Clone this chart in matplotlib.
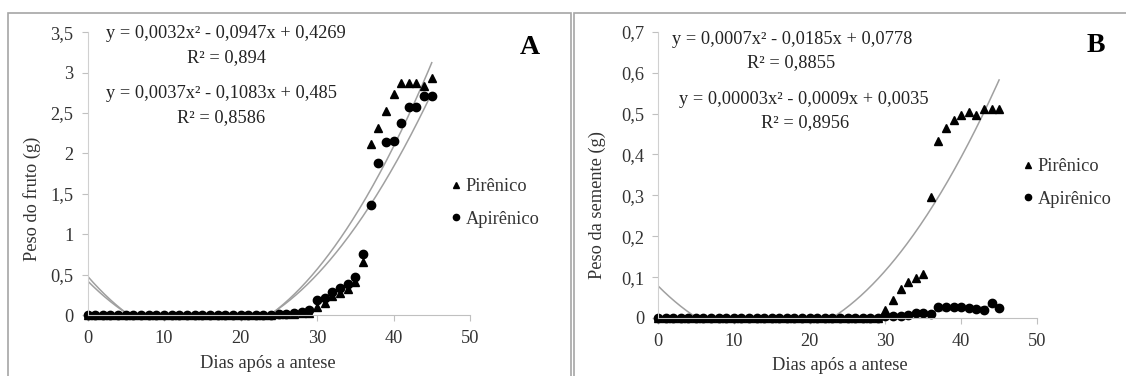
import numpy as np
import matplotlib
matplotlib.use("Agg")
import matplotlib.pyplot as plt
from matplotlib.patches import Rectangle

plt.rcParams['font.family'] = ['Liberation Serif', 'DejaVu Serif']

# days after anthesis
dias = [0, 1, 2, 3, 4, 5, 6, 7, 8, 9, 10, 11, 12, 13, 14, 15, 16, 17, 18, 19,
        20, 21, 22, 23, 24, 25, 26, 27, 28, 29, 30, 31, 32, 33, 34, 35, 36, 37,
        38, 39, 40, 41, 42, 43, 44, 45]

# A - fruit weight (g)
fruto_pir = [0, 0, 0, 0, 0, 0, 0, 0, 0, 0, 0, 0, 0, 0, 0, 0, 0, 0, 0, 0,
             0.005, 0.005, 0.005, 0.005, 0.005, 0.01, 0.01, 0.015, 0.02, 0.03,
             0.095, 0.145, 0.23, 0.27, 0.32, 0.41, 0.66, 2.12, 2.32, 2.53, 2.73,
             2.87, 2.87, 2.87, 2.83, 2.93]
fruto_api = [0, 0, 0, 0, 0, 0, 0, 0, 0, 0, 0, 0, 0, 0, 0, 0, 0, 0, 0, 0,
             0.005, 0.005, 0.005, 0.005, 0.005, 0.01, 0.015, 0.02, 0.035, 0.06,
             0.186, 0.206, 0.29, 0.33, 0.38, 0.47, 0.75, 1.36, 1.88, 2.14, 2.15,
             2.38, 2.58, 2.58, 2.71, 2.71]

# B - seed weight (g)
semente_pir = [0, 0, 0, 0, 0, 0, 0, 0, 0, 0, 0, 0, 0, 0, 0, 0, 0, 0, 0, 0,
               0, 0, 0, 0, 0, 0, 0, 0, 0, 0,
               0.020, 0.043, 0.071, 0.088, 0.098, 0.108, 0.295, 0.432, 0.465,
               0.485, 0.497, 0.503, 0.497, 0.511, 0.511, 0.511]
semente_api = [0, 0, 0, 0, 0, 0, 0, 0, 0, 0, 0, 0, 0, 0, 0, 0, 0, 0, 0, 0,
               0, 0, 0, 0, 0, 0, 0, 0, 0, 0,
               0.006, 0.006, 0.006, 0.008, 0.012, 0.012, 0.010, 0.026, 0.027,
               0.028, 0.028, 0.025, 0.022, 0.020, 0.037, 0.025]

eqA = ["y = 0,0032x² - 0,0947x + 0,4269", "R² = 0,894",
       "y = 0,0037x² - 0,1083x + 0,485", "R² = 0,8586"]
eqB = ["y = 0,0007x² - 0,0185x + 0,0778", "R² = 0,8855",
       "y = 0,00003x² - 0,0009x + 0,0035", "R² = 0,8956"]

W, H = 1126, 376
FS = 13.2
fig = plt.figure(figsize=(W / 100, H / 100), dpi=100)

def fx(px):
    return px / W

def fy(py):
    return 1 - py / H

# panel frames
for x0, x1 in [(8, 571), (574, 1130)]:
    fig.patches.append(Rectangle((fx(x0), fy(390)), fx(x1 - x0), (390 - 12.7) / H,
                                 transform=fig.transFigure, fill=False,
                                 ec='#a6a6a6', lw=1.2))

def panel(rect, y1, y2, ymax, ystep, yfmt, ylabel, pos):
    ax = fig.add_axes(rect)
    xs = np.linspace(0, 45, 300)
    for y in (y1, y2):
        c = np.polyfit(dias, y, 2)   # excel style poly trendline
        ax.plot(xs, np.polyval(c, xs), color='#a0a0a0', lw=1.1)
    ax.plot(dias, y1, '^', color='black', ms=6, clip_on=False, label='Pirênico')
    ax.plot(dias, y2, 'o', color='black', ms=6, clip_on=False, label='Apirênico')
    ax.set_xlim(0, 50)
    ax.set_ylim(0, ymax)
    ax.set_xticks(range(0, 51, 10))
    yt = np.arange(0, ymax + 1e-9, ystep)
    ax.set_yticks(yt)
    ax.set_yticklabels([yfmt(v) for v in yt])
    for s in ['top', 'right']:
        ax.spines[s].set_visible(False)
    ax.spines['left'].set_color('#d0d0d0')
    ax.spines['bottom'].set_color('#c0c0c0')
    ax.tick_params(axis='both', colors='#c0c0c0', labelcolor='#333333',
                   labelsize=FS, length=4)
    ax.tick_params(axis='y', pad=6)
    ax.tick_params(axis='x', pad=7)
    ax.set_xlabel('Dias após a antese', fontsize=FS, color='#333333')
    ax.set_ylabel(ylabel, fontsize=FS, color='#333333')
    ax.xaxis.set_label_coords(pos[0], pos[1])
    ax.xaxis.label.set_va('center')
    ax.yaxis.set_label_coords(pos[2], pos[3])
    ax.yaxis.label.set_va('center')
    return ax

def fmt(v):
    s = ('%.1f' % v).rstrip('0').rstrip('.')
    return s.replace('.', ',')

axA = panel([fx(87.5), fy(315), fx(470 - 87.5), (315 - 32.3) / H],
            fruto_pir, fruto_api, 3.5, 0.5, fmt, 'Peso do fruto (g)',
            (0.472, -0.17, -0.145, 0.41))
axB = panel([fx(658), fy(318), fx(1037 - 658), (318 - 31.7) / H],
            semente_pir, semente_api, 0.7, 0.1, fmt, 'Peso da semente (g)',
            (0.48, -0.165, -0.161, 0.395))

# equations
for txt, x, y in zip(eqA, [226, 226, 221, 221], [33, 58, 94, 118]):
    fig.text(fx(x), fy(y), txt, ha='center', va='center', fontsize=FS, color='#222222')
for txt, x, y in zip(eqB, [792, 791, 804, 805], [40, 63, 99, 123]):
    fig.text(fx(x), fy(y), txt, ha='center', va='center', fontsize=FS, color='#222222')

fig.text(fx(530), fy(47), 'A', ha='center', va='center', fontsize=20, fontweight='bold')
fig.text(fx(1096), fy(45), 'B', ha='center', va='center', fontsize=20, fontweight='bold')

for ax, lx, ly in [(axA, 441, 203), (axB, 1013, 183)]:
    ax.legend(loc='center left', bbox_to_anchor=(fx(lx), fy(ly)),
              bbox_transform=fig.transFigure, frameon=False, fontsize=FS,
              handlelength=0.6, handletextpad=0.25, labelspacing=0.85,
              borderpad=0, markerscale=0.75, labelcolor='#333333')

fig.savefig('out.png', dpi=100)
